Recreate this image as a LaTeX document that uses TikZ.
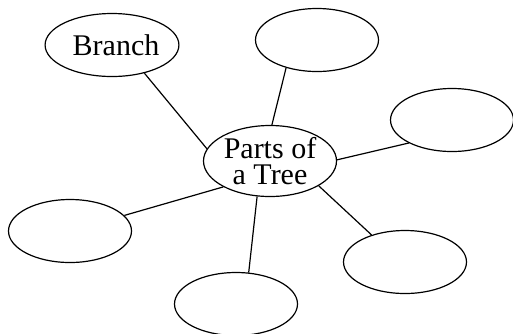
\documentclass[tikz,border=0pt]{standalone}
\usepackage{fontspec}
\setmainfont{Liberation Serif}
\usepackage{tikz}
\usetikzlibrary{shapes.geometric, positioning}

\begin{document}
\begin{tikzpicture}[
        x=1pt, y=-1pt,
        bubble/.style={draw, ellipse, line width=1.2pt, minimum width=123pt, minimum height=63pt,
                       inner sep=0pt, font=\fontsize{30}{26}\selectfont, align=center},
        hub/.style={bubble, minimum width=133pt, minimum height=71pt, inner xsep=-2pt, inner ysep=-4pt},
        link/.style={line width=1.2pt}
      ]
        \useasboundingbox (0,0) rectangle (513,333);
        \node[hub] (tree) at (270,161) {Parts of\\a Tree};
        \node[bubble] (branch) at (112,45) {\hspace*{8pt}Branch};
        \node[bubble] (top) at (317,40) {};
        \node[bubble] (right) at (452,120) {};
        \node[bubble] (left) at (70,231) {};
        \node[bubble] (bottom) at (236,304) {};
        \node[bubble] (lowright) at (405,262) {};
        \draw[link] (branch.-41) -- (tree.169);
        \draw[link] (top.-138) -- (tree.87);
        \draw[link] (right.-152) -- (tree.1);
        \draw[link] (left.16) -- (tree.-151);
        \draw[link] (bottom.68) -- (tree.-110);
        \draw[link] (lowright.141) -- (tree.-27);
      \end{tikzpicture}
\end{document}
